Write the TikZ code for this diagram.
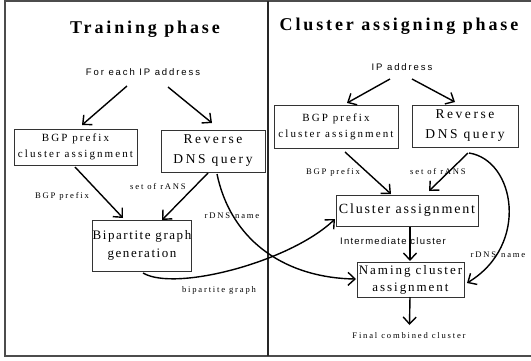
\documentclass[tikz,border=0pt]{standalone}
\usepackage{fontspec}
\setmainfont{Liberation Serif}
\newfontfamily\sansf{Liberation Sans}
\usetikzlibrary{arrows.meta,calc}
\tikzset{
  frameline/.style={draw=black!70, line width=1.6pt},
  divline/.style={draw=black!85, line width=1.2pt},
  boxn/.style={draw=black!80, line width=0.9pt, inner sep=0pt, align=center},
  titlen/.style={inner sep=0pt, font=\fontsize{18}{21}\selectfont\bfseries\addfontfeature{LetterSpace=16}},
  sanslbl/.style={inner sep=0pt, font=\sansf\fontsize{9.5}{11}\selectfont\addfontfeature{LetterSpace=20}},
  serlbl/.style={inner sep=0pt, font=\fontsize{8.6}{10}\selectfont\addfontfeature{LetterSpace=21}},
  arr/.style={line width=1.4pt, -{Straight Barb[length=7pt,width=13pt,line width=1.4pt]}},
}
\begin{document}
\begin{tikzpicture}[x=1pt,y=-1pt]
\useasboundingbox (0,0) rectangle (531,360);
\draw[frameline] (531,1) -- (5,1) -- (5,356) -- (531,356);
\draw[divline] (268,1) -- (268,356);
% titles
\node[titlen] (t1) at (145,29) {Training phase};
\node[titlen] (t2) at (399,26) {Cluster assigning phase};
% training
\node[sanslbl] (ip1) at (143,72) {For each IP address};
\node[boxn, minimum width=123pt, minimum height=36pt, font=\fontsize{11}{16}\selectfont\addfontfeature{LetterSpace=19}] (bgp1) at (75.5,147) {BGP prefix\\cluster assignment};
\node[boxn, minimum width=104pt, minimum height=42pt, font=\fontsize{13.5}{20}\selectfont\addfontfeature{LetterSpace=19}] (rdns1) at (213,151) {Reverse\\DNS query};
\node[boxn, minimum width=98pt, minimum height=51pt, font=\fontsize{13}{18}\selectfont\addfontfeature{LetterSpace=12}] (bip) at (142,245.5) {Bipartite graph\\generation};
% assigning
\node[sanslbl] (ip2) at (402,67) {IP address};
\node[boxn, minimum width=124pt, minimum height=43pt, font=\fontsize{11}{16}\selectfont\addfontfeature{LetterSpace=19}] (bgp2) at (336,126.5) {BGP prefix\\cluster assignment};
\node[boxn, minimum width=106pt, minimum height=42pt, font=\fontsize{13.5}{20}\selectfont\addfontfeature{LetterSpace=19}] (rdns2) at (465,126) {Reverse\\DNS query};
\node[boxn, minimum width=142pt, minimum height=31pt, font=\fontsize{14}{18}\selectfont\addfontfeature{LetterSpace=13}] (ca) at (407,210.5) {Cluster assignment};
\node[boxn, minimum width=107pt, minimum height=35pt, font=\fontsize{13}{17}\selectfont\addfontfeature{LetterSpace=15}] (nca) at (410.5,279.5) {Naming cluster\\assignment};
\node[serlbl] (fin) at (409,336) {Final combined cluster};
% edge labels
\node[serlbl] (l1) at (62,196) {BGP prefix};
\node[serlbl] (l2) at (158,187) {set of rANS};
\node[serlbl] (l3) at (232,216) {rDNS\hspace{5pt}name};
\node[serlbl] (l4) at (219,290) {bipartite graph};
\node[serlbl] (l5) at (333,172) {BGP prefix};
\node[serlbl] (l6) at (438,172) {set of rANS};
\node[sanslbl, font=\sansf\fontsize{9.5}{11}\selectfont\addfontfeature{LetterSpace=13}] (l7) at (393,241) {Intermediate cluster};
\node[serlbl] (l8) at (498,255) {rDNS\hspace{5pt}name};
% connectors training
\draw[arr] ($(ip1)+(-16,14)$) -- ($(bgp1)+(6.5,-22)$);
\draw[arr] ($(ip1)+(25,15)$) -- ($(rdns1)+(-1,-28)$);
\draw[arr] ($(bgp1)+(-0.5,20)$) -- ($(bip)+(-19,-27.5)$);
\draw[arr] ($(rdns1)+(-5,22)$) -- ($(bip)+(20,-25.5)$);
\draw[arr] ($(rdns1)+(4,23)$) .. controls (232,245) and (290,278) .. ($(nca)+(-54.5,-0.5)$);
\draw[arr] ($(bip)+(1,27.5)$) .. controls (175,292) and (290,262) .. ($(ca)+(-72,8.5)$);
% connectors assigning
\draw[arr] ($(ip2)+(-12,12)$) -- ($(bgp2)+(11,-23.5)$);
\draw[arr] ($(ip2)+(10,12)$) -- ($(rdns2)+(-10,-24)$);
\draw[arr] ($(bgp2)+(9,25.5)$) -- ($(ca)+(-16,-16.5)$);
\draw[arr] ($(rdns2)+(3,27)$) -- ($(ca)+(22,-19.5)$);
\draw[arr] ($(rdns2)+(4,27)$) .. controls (515,160) and (530,245) .. ($(nca)+(56.5,3.5)$);
\draw[arr] ($(ca)+(3,16.5)$) -- ($(nca)+(-0.5,-18.5)$);
\draw[arr] ($(nca)+(-0.5,17.5)$) -- ($(fin)+(0.5,-11)$);
\end{tikzpicture}
\end{document}
